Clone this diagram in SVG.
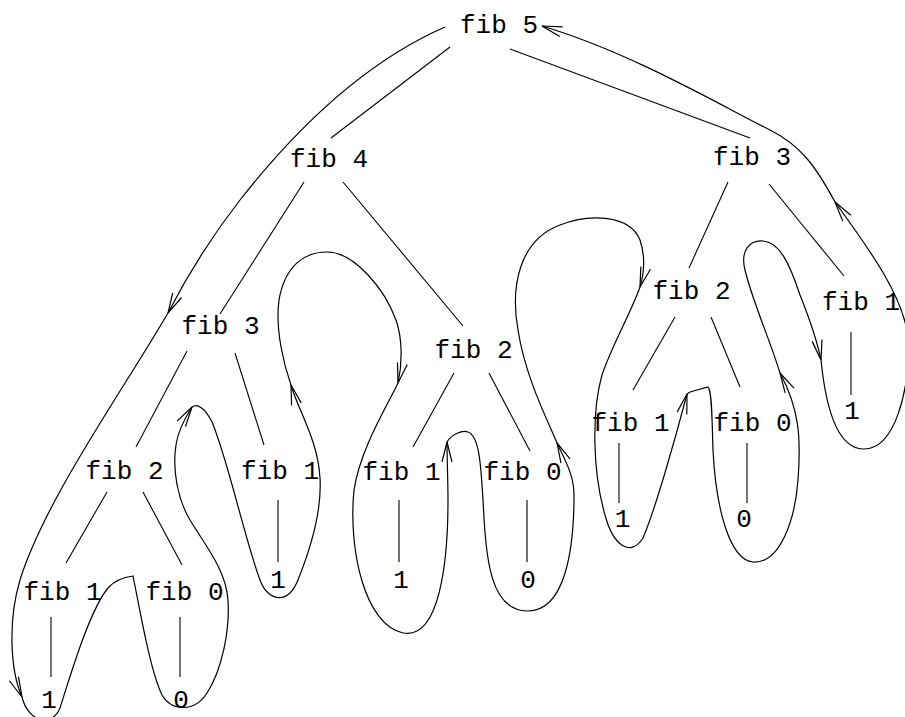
<svg xmlns="http://www.w3.org/2000/svg" width="905" height="717" viewBox="0 0 905 717">
<style>
text{font-family:"Liberation Mono","DejaVu Sans Mono",monospace;font-size:26px;fill:#000;text-anchor:middle}
.e{stroke:#000;stroke-width:1.1;fill:none}
.t{stroke:#000;stroke-width:1.2;fill:none}
.a{stroke:#000;stroke-width:1.2;fill:none;marker-end:url(#arr)}
</style>
<defs>
<marker id="arr" markerUnits="userSpaceOnUse" markerWidth="24" markerHeight="14" refX="0" refY="0" viewBox="-22 -7 24 14" orient="auto" overflow="visible">
<path d="M-20,-5 L0,0 L-20,5" fill="none" stroke="#000" stroke-width="1.2"/>
</marker>
</defs>
<rect width="905" height="717" fill="#fff"/>
<g id="connectors">
<g id="tree-edges">
<line class="e" x1="450" y1="47" x2="331" y2="138"/>
<line class="e" x1="510" y1="49" x2="750" y2="138"/>
<line class="e" x1="304" y1="182" x2="220" y2="314"/>
<line class="e" x1="343" y1="182" x2="463" y2="326"/>
<line class="e" x1="728" y1="182" x2="689" y2="268"/>
<line class="e" x1="769" y1="184" x2="844" y2="276"/>
<line class="e" x1="851" y1="332" x2="851" y2="395"/>
<line class="e" x1="187" y1="351" x2="136" y2="447"/>
<line class="e" x1="235" y1="353" x2="264" y2="445"/>
<line class="e" x1="107" y1="492" x2="66" y2="563"/>
<line class="e" x1="143" y1="492" x2="182" y2="565"/>
<line class="e" x1="51" y1="617" x2="51" y2="677"/>
<line class="e" x1="180" y1="617" x2="180" y2="677"/>
<line class="e" x1="454" y1="373" x2="413" y2="447"/>
<line class="e" x1="489" y1="373" x2="530" y2="451"/>
<line class="e" x1="278" y1="500" x2="278" y2="562"/>
<line class="e" x1="399" y1="500" x2="399" y2="562"/>
<line class="e" x1="527" y1="500" x2="527" y2="562"/>
<line class="e" x1="675" y1="317" x2="633" y2="390"/>
<line class="e" x1="711" y1="317" x2="740" y2="387"/>
<line class="e" x1="619" y1="443" x2="619" y2="503"/>
<line class="e" x1="747" y1="443" x2="747" y2="503"/>
</g>
<g id="tour">
<path class="a" d="M445,27 C365,62 295,130 240,200 C205,245 185,280 168,313"/>
<path class="a" d="M168,313 C120,395 45,500 20,580 C8,620 10,670 22,697"/>
<path class="a" d="M22,697 C28,722 52,728 60,708 C72,670 90,610 108,588 C115,580 125,577 133,576 C140,610 150,670 162,695 C172,712 195,712 207,693 C222,670 230,630 228,600 C226,570 205,545 190,520 C178,500 172,470 176,445 C178,430 185,418 192,407"/>
<path class="a" d="M192,407 C197,403 205,408 212,422 C228,460 245,540 260,580 C268,602 288,605 298,580 C310,550 322,510 320,478 C318,440 298,410 291,385"/>
<path class="a" d="M291,385 C284,365 275,330 279,300 C285,265 305,252 327,252 C355,252 385,290 396,320 C403,340 402,365 398,383"/>
<path class="a" d="M398,383 C385,410 360,450 354,490 C348,550 365,625 403,633 C440,640 448,560 448,500 C448,480 447,460 447,442"/>
<path class="a" d="M447,442 C452,434 462,430 468,432 C480,436 481,470 483,500 C486,560 490,610 527,611 C565,612 574,550 574,495 C574,475 565,460 557,443"/>
<path class="a" d="M557,443 C545,415 525,375 518,330 C510,285 520,240 560,225 C590,213 630,215 640,240 C645,255 645,270 640,287"/>
<path class="a" d="M640,287 C630,315 612,345 602,375 C592,410 592,470 605,515 C613,545 630,558 643,538 C655,510 675,440 687,394"/>
<path class="a" d="M687,394 L690,392 L708,387 C712,390 712,420 713,450 C716,510 730,560 753,562 C780,564 795,520 798,480 C801,440 800,410 780,373"/>
<path class="a" d="M780,373 C770,340 752,300 745,270 C740,250 750,240 763,241 C780,242 790,265 800,295 C810,320 817,340 821,360"/>
<path class="a" d="M821,360 C825,400 835,448 863,449 C895,450 910,390 908,340 C906,300 870,250 835,202"/>
<path class="a" d="M835,202 C815,165 800,145 770,130 C720,105 630,52 542,26"/>
</g>
</g>
<g id="n-fib5"><text x="499" y="33">fib 5</text></g>
<g id="n-fib4"><text x="329" y="167">fib 4</text></g>
<g id="n-fib3-r"><text x="752" y="165">fib 3</text></g>
<g id="n-fib3-l"><text x="220.5" y="334">fib 3</text></g>
<g id="n-fib2-m"><text x="473.5" y="358">fib 2</text></g>
<g id="n-fib2-r"><text x="691.5" y="299">fib 2</text></g>
<g id="n-fib1-rr"><text x="861" y="310">fib 1</text></g>
<g id="n-val-rr"><text x="852" y="419">1</text></g>
<g id="n-fib2-l"><text x="124.5" y="479">fib 2</text></g>
<g id="n-fib1-lm"><text x="280" y="479">fib 1</text></g>
<g id="n-val-lm"><text x="278" y="588">1</text></g>
<g id="n-fib1-m"><text x="401.5" y="480">fib 1</text></g>
<g id="n-fib0-m"><text x="522.5" y="480">fib 0</text></g>
<g id="n-val1-m"><text x="401" y="588">1</text></g>
<g id="n-val0-m"><text x="528" y="588">0</text></g>
<g id="n-fib1-r"><text x="630.5" y="431">fib 1</text></g>
<g id="n-fib0-r"><text x="752.5" y="431">fib 0</text></g>
<g id="n-val1-r"><text x="622.5" y="527">1</text></g>
<g id="n-val0-r"><text x="744" y="527">0</text></g>
<g id="n-fib1-bl"><text x="62.5" y="600">fib 1</text></g>
<g id="n-fib0-bl"><text x="184.5" y="600">fib 0</text></g>
<g id="n-val1-bl"><text x="49" y="708">1</text></g>
<g id="n-val0-bl"><text x="181" y="708">0</text></g>
</svg>
